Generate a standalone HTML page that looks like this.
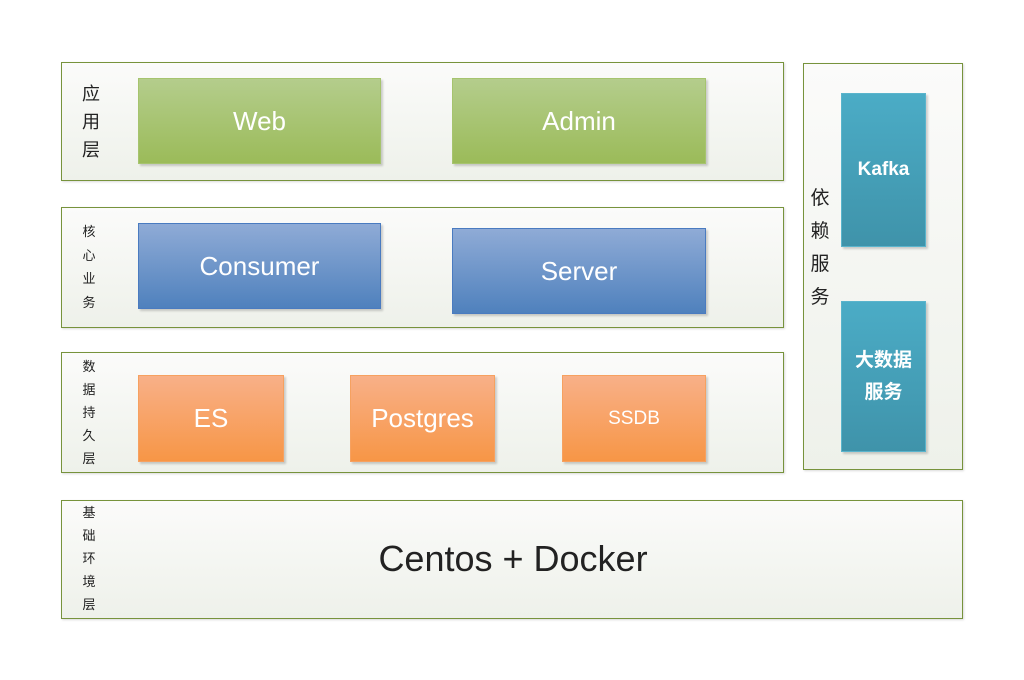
<!DOCTYPE html>
<html><head><meta charset="utf-8"><style>
body{margin:0;width:1024px;height:680px;background:#fff;position:relative;overflow:hidden;font-family:"Liberation Sans","Noto Sans CJK SC",sans-serif}
.p{position:absolute;border:1.5px solid #77933c;background:linear-gradient(#fbfbfa,#eef1ea);box-sizing:border-box;box-shadow:1px 1px 2px rgba(0,0,0,.15)}
.b{position:absolute;box-sizing:border-box;color:#fff;display:flex;align-items:center;justify-content:center;text-align:center;box-shadow:2px 2px 2px rgba(0,0,0,.18)}
.g{background:linear-gradient(#b4cd8c,#9bbb59);border:1px solid #a6c46e;font-size:26px}
.bl{background:linear-gradient(#8fabd6,#4f81bd);border:1px solid #4a7bc0;font-size:26px}
.o{background:linear-gradient(#f8b088,#f79646);border:1px solid #f6a160;font-size:26px}
.t{background:linear-gradient(#4bacc6,#3f93aa);border:1px solid #5ab4cc;font-weight:bold;font-size:19px;line-height:32px}
.l{position:absolute;color:#222;text-align:center;}
</style></head><body>
<div class="p" style="left:61px;top:62px;width:723px;height:119px"></div>
<div class="p" style="left:61px;top:207px;width:723px;height:121px"></div>
<div class="p" style="left:61px;top:352px;width:723px;height:121px"></div>
<div class="p" style="left:61px;top:500px;width:902px;height:119px"></div>
<div class="p" style="left:803px;top:63px;width:160px;height:407px"></div>

<div class="l" style="left:80px;top:80px;width:22px;font-size:18px;line-height:28px">应<br>用<br>层</div>
<div class="l" style="left:80px;top:220px;width:18px;font-size:13px;line-height:23.5px">核<br>心<br>业<br>务</div>
<div class="l" style="left:80px;top:355px;width:18px;font-size:13px;line-height:23px">数<br>据<br>持<br>久<br>层</div>
<div class="l" style="left:80px;top:501px;width:18px;font-size:13px;line-height:23px">基<br>础<br>环<br>境<br>层</div>
<div class="l" style="left:808px;top:182px;width:24px;font-size:19px;line-height:33px">依<br>赖<br>服<br>务</div>

<div class="b g" style="left:138px;top:78px;width:243px;height:86px">Web</div>
<div class="b g" style="left:452px;top:78px;width:254px;height:86px">Admin</div>
<div class="b bl" style="left:138px;top:223px;width:243px;height:86px">Consumer</div>
<div class="b bl" style="left:452px;top:228px;width:254px;height:86px">Server</div>
<div class="b o" style="left:138px;top:375px;width:146px;height:87px">ES</div>
<div class="b o" style="left:350px;top:375px;width:145px;height:87px">Postgres</div>
<div class="b o" style="left:562px;top:375px;width:144px;height:87px;font-size:19px">SSDB</div>
<div class="b t" style="left:841px;top:93px;width:85px;height:154px">Kafka</div>
<div class="b t" style="left:841px;top:301px;width:85px;height:151px">大数据<br>服务</div>

<div class="l" style="left:61px;top:538px;width:904px;font-size:36px;color:#222">Centos + Docker</div>
</body></html>
